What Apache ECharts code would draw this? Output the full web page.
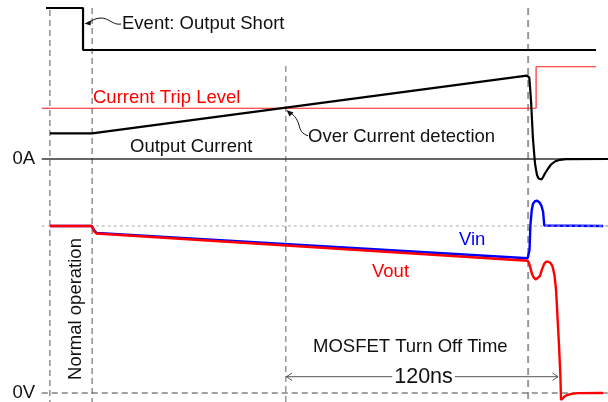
<!DOCTYPE html>
<html><head><meta charset="utf-8">
<script src="https://cdn.jsdelivr.net/npm/echarts@6/dist/echarts.min.js"></script>
<style>html,body{margin:0;padding:0;background:#fff}#c{width:608px;height:402px}</style>
</head><body><div id="c"></div>
<script>
// Time axis in ns, 0 = over-current detection, turn-off ends at 120 ns
const eventSignal = [[-105.7,1],[-89.4,1],[-89.4,0],[136.7,0]];
const tripLevel = [[-107.6,5.07],[110.3,5.07],[110.3,9.23],[136.7,9.23]];
const outputCurrent = [[-104.0,2.57],[-85.4,2.57],[106.2,8.33],[106.9,8.4],[107.3,8.15],[107.6,7.3],[108.1,5.7],[108.5,3.9],[108.9,2.1],[109.4,0.7],[109.8,-0.4],[110.3,-1.1],[110.7,-1.6],[111.4,-1.95],[112.0,-2.1],[112.7,-2.05],[113.4,-1.8],[114.2,-1.45],[115.6,-0.95],[116.9,-0.55],[118.6,-0.25],[120.8,-0.08],[123.5,-0.01],[142,0]];
const vin = [[-104.0,10],[-85.6,10],[-85.0,9.91],[-84.6,9.76],[-83.4,9.58],[106.6,8.07],[107.4,8.56],[107.8,10.06],[108.4,10.96],[108.9,11.32],[109.8,11.49],[110.8,11.51],[111.8,11.41],[112.7,11.2],[113.4,10.84],[113.7,10.36],[113.9,10.03],[114.2,10],[139.9,10]];
const vout = [[-104.0,10],[-85.6,10],[-85.0,9.88],[-84.6,9.70],[-83.4,9.55],[106.6,7.92],[107.2,7.78],[107.8,7.49],[108.5,7.13],[109.4,6.89],[110.3,6.80],[111.1,6.83],[112.0,7.01],[112.9,7.40],[113.8,7.72],[114.7,7.86],[115.7,7.86],[116.7,7.78],[117.5,7.60],[118.4,7.07],[119.1,6.17],[119.7,4.67],[120.4,2.87],[121.0,1.08],[121.3,-0.42],[122.0,-0.39],[122.6,-0.24],[123.9,-0.12],[126.1,-0.05],[128.8,-0.01],[139.9,0]];
const markerTimes = [-104.0, -85.4, 0, 106.8];
const refStart = -107.6, refEnd = 142;
const vNominal = 10;
const vinSettled = 114.2;
const turnOffSpan = [0, 120];
const turnOffLabel = '120ns';

const font = '"Liberation Sans", Arial, Helvetica, sans-serif';
const chart = echarts.init(document.getElementById('c'), null, {renderer:'canvas'});

const X = i => ({type:'value', gridIndex:i, min:-126, max:142, show:false});
function ln(grid, data, color, width, extra) {
  return Object.assign({type:'line', xAxisIndex:grid, yAxisIndex:grid, data, symbol:'none', silent:true,
    clip:false, animation:false, lineStyle:{color, width}}, extra || {});
}
function txt(text, x, y, o) {
  o = o || {};
  return {type:'text', x, y, z:100, rotation:o.rot || 0,
    style:Object.assign({text, fill:o.fill || '#111', fontSize:o.size || 18.5, fontFamily:font,
      align:o.align || 'left', verticalAlign:'middle', textAlign:o.align || 'left', textVerticalAlign:'middle'}, o.style || {})};
}
const guideTops = [10, 8, 66, 8];
const guideStyles = [
  {color:'#555', width:1, type:[6,4]},
  {color:'#555', width:1, type:[6,4]},
  {color:'#666', width:1, type:[6,4]},
  {color:'#999', width:2, type:[7,5]}
];
const series = [];
markerTimes.forEach((t, i) => {
  series.push({type:'line', xAxisIndex:3, yAxisIndex:3, data:[[t, guideTops[i]],[t, 402]], symbol:'none',
    silent:true, clip:false, animation:false, z:1, lineStyle:guideStyles[i]});
});
series.push(ln(1, [[refStart,0],[refEnd,0]], '#333', 1.3, {z:1}));
series.push(ln(2, [[refStart,vNominal],[refEnd,vNominal]], '#aaa', 1, {z:1, lineStyle:{color:'#aaa', width:1, type:[3,3]}}));
series.push(ln(2, [[refStart,0],[refEnd,0]], '#444', 1.2, {z:1, lineStyle:{color:'#444', width:1.2, type:[6,4]}}));
series.push(ln(0, eventSignal, '#000', 2.2));
series.push(ln(1, tripLevel, '#ff1a1a', 1.1));
series.push(ln(1, outputCurrent, '#000', 2.2));
series.push(ln(2, vin, '#0000ff', 2.4));
series.push(ln(2, vout, '#ff0000', 2.4));
series.push(ln(2, [[vinSettled,vNominal],[refEnd,vNominal]], '#aaa', 1, {z:3, lineStyle:{color:'#b0b0b0', width:1, type:[3,3]}}));
series.push(ln(2, [[turnOffSpan[0],0.976],[turnOffSpan[1],0.976]], '#555', 1));

const option = {
  animation:false,
  backgroundColor:'#fff',
  grid:[
    {left:0, right:0, top:8, height:42},
    {left:0, right:0, top:59, height:130},
    {left:0, right:0, top:192.6, height:208.75},
    {left:0, right:0, top:0, height:402}
  ],
  xAxis:[X(0),X(1),X(2),X(3)],
  yAxis:[
    {type:'value', gridIndex:0, min:0, max:1, show:false},
    {type:'value', gridIndex:1, min:-3, max:10, show:false},
    {type:'value', gridIndex:2, min:-0.5, max:12, show:false},
    {type:'value', gridIndex:3, min:0, max:402, inverse:true, show:false}
  ],
  series,
  graphic:[
    txt('Event: Output Short', 122, 24),
    txt('Current Trip Level', 93, 98, {fill:'#ff0000'}),
    txt('Output Current', 130, 146.5),
    txt('Over Current detection', 308, 136.5),
    txt('0A', 12.5, 158.5),
    txt('Vin', 459, 240, {fill:'#0000ff'}),
    txt('Vout', 372, 271.5, {fill:'#ff0000'}),
    txt('Normal operation', 75.5, 309, {rot:Math.PI/2, align:'center'}),
    txt('MOSFET Turn Off Time', 313, 347),
    txt(turnOffLabel, 423.5, 376.7, {size:21.5, align:'center', style:{backgroundColor:'#fff', padding:[0,2]}}),
    txt('0V', 12.5, 392.7),
    {type:'bezierCurve', z:100, shape:{x1:121,y1:24,cpx1:113,cpy1:25.5,cpx2:109,cpy2:18,x2:101,y2:18}, style:{stroke:'#111', lineWidth:1, fill:null}},
    {type:'bezierCurve', z:100, shape:{x1:101,y1:18,cpx1:95,cpy1:18,cpx2:92,cpy2:21,x2:88,y2:22.5}, style:{stroke:'#111', lineWidth:1, fill:null}},
    {type:'polygon', z:100, shape:{points:[[84.5,23.5],[91,20.5],[90.5,25.5]]}, style:{fill:'#111'}},
    {type:'bezierCurve', z:100, shape:{x1:308,y1:135.7,cpx1:302,cpy1:134,cpx2:300,cpy2:130,x2:299,y2:125}, style:{stroke:'#111', lineWidth:1, fill:null}},
    {type:'bezierCurve', z:100, shape:{x1:299,y1:125,cpx1:297,cpy1:118,cpx2:293,cpy2:114,x2:289,y2:112}, style:{stroke:'#111', lineWidth:1, fill:null}},
    {type:'polygon', z:100, shape:{points:[[286.5,110],[289.5,116.5],[293.5,112.5]]}, style:{fill:'#111'}},
    {type:'polyline', z:100, shape:{points:[[292,373],[286.5,376.7],[292,380.4]]}, style:{stroke:'#555', lineWidth:1, fill:null}},
    {type:'polyline', z:100, shape:{points:[[552.5,373],[558,376.7],[552.5,380.4]]}, style:{stroke:'#555', lineWidth:1, fill:null}}
  ]
};
chart.setOption(option);
</script></body></html>
